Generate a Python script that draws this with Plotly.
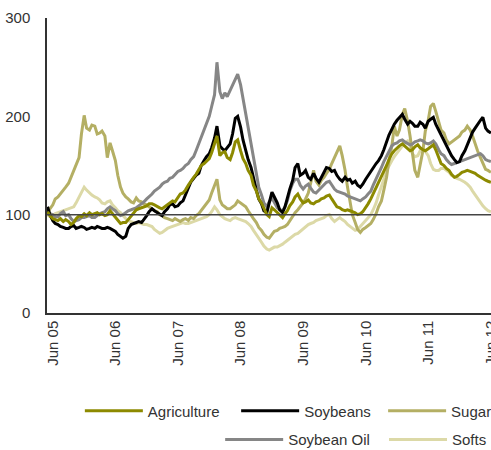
import pandas as pd
import plotly.graph_objects as go

# semi-monthly observations, index = 100 at start
dates = pd.date_range("2005-05-01", periods=171, freq="SMS")

agriculture = [103, 99, 96, 95, 94, 96, 93, 95, 93, 90, 92, 96, 99, 98, 101, 99, 102, 100, 101, 102,
               100, 101, 99, 100, 104, 101, 98, 94, 91, 92, 92, 95, 99, 102, 105, 106, 107, 108, 109, 111,
               111, 110, 108, 107, 106, 108, 110, 112, 114, 113, 118, 121, 122, 125, 130, 134, 138, 141, 146, 150,
               152, 154, 157, 163, 172, 180, 160, 163, 164, 158, 156, 163, 174, 176, 165, 157, 152, 145, 140, 130,
               124, 116, 112, 106, 100, 98, 107, 105, 102, 100, 97, 101, 104, 109, 113, 118, 121, 116, 112, 113,
               115, 112, 111, 113, 114, 116, 117, 119, 120, 116, 111, 108, 107, 105, 104, 105, 104, 103, 102, 100,
               101, 103, 107, 111, 116, 121, 128, 133, 138, 144, 150, 156, 162, 165, 168, 170, 172, 170, 167, 165,
               166, 169, 171, 168, 166, 165, 167, 169, 171, 166, 158, 152, 150, 147, 145, 141, 138, 139, 141, 143,
               144, 145, 144, 143, 142, 140, 138, 137, 135, 134, 133]

soybeans = [108, 100, 94, 91, 90, 88, 87, 86, 86, 88, 89, 86, 87, 88, 87, 85, 86, 87, 86, 88,
            87, 86, 86, 87, 86, 85, 83, 80, 78, 76, 78, 86, 90, 91, 92, 93, 92, 95, 99, 103,
            106, 104, 102, 100, 99, 103, 106, 110, 111, 108, 109, 112, 114, 120, 127, 133, 137, 140, 142, 150,
            155, 159, 162, 168, 178, 190, 170, 167, 165, 168, 172, 182, 198, 200, 189, 176, 165, 156, 148, 136,
            125, 116, 111, 104, 102, 112, 123, 118, 112, 105, 102, 108, 118, 126, 135, 148, 152, 140, 142, 145,
            138, 136, 142, 137, 133, 138, 143, 148, 147, 144, 145, 140, 136, 134, 138, 135, 136, 132, 134, 130,
            128, 131, 136, 140, 144, 148, 152, 155, 160, 166, 174, 181, 187, 192, 196, 199, 202, 197, 192, 195,
            193, 190, 190, 194, 192, 188, 195, 197, 199, 192, 186, 180, 175, 170, 165, 160, 156, 153, 154, 160,
            165, 171, 178, 184, 188, 192, 196, 199, 188, 185, 183]

sugar = [100, 106, 110, 116, 118, 121, 124, 128, 132, 138, 143, 150, 158, 182, 201, 188, 186, 191, 190, 182,
         183, 185, 180, 158, 173, 165, 155, 140, 128, 122, 118, 116, 113, 112, 117, 114, 113, 111, 110, 108,
         106, 104, 103, 100, 99, 97, 96, 95, 94, 96, 94, 93, 95, 96, 94, 97, 96, 99, 101, 104,
         108, 111, 115, 122, 130, 136, 115, 110, 108, 106, 106, 108, 110, 114, 112, 110, 108, 104, 99, 96,
         92, 87, 84, 80, 77, 76, 80, 83, 84, 86, 87, 88, 90, 94, 98, 102, 105, 108, 112, 116,
         122, 132, 145, 134, 130, 135, 138, 142, 146, 152, 158, 165, 170, 160, 145, 128, 115, 100, 92, 85,
         82, 85, 87, 89, 91, 95, 101, 108, 114, 125, 138, 155, 170, 190, 180, 186, 202, 208, 195, 180,
         162, 145, 138, 150, 165, 185, 196, 210, 213, 205, 193, 186, 183, 176, 172, 174, 176, 178, 180, 184,
         186, 190, 186, 180, 172, 165, 158, 152, 146, 145, 143]

soybean_oil = [104, 101, 100, 98, 98, 101, 103, 99, 100, 96, 93, 94, 95, 97, 97, 98, 99, 97, 97, 99,
               101, 102, 103, 106, 108, 106, 104, 101, 99, 100, 102, 104, 105, 106, 107, 109, 111, 113, 116, 118,
               121, 124, 126, 128, 131, 133, 134, 137, 138, 141, 144, 145, 147, 150, 152, 156, 159, 165, 172, 178,
               186, 192, 200, 210, 222, 255, 225, 218, 224, 220, 226, 232, 238, 243, 232, 218, 200, 186, 172, 155,
               140, 128, 120, 112, 108, 113, 117, 112, 107, 105, 104, 108, 114, 124, 132, 136, 136, 130, 126, 129,
               131, 127, 123, 122, 125, 128, 130, 133, 134, 130, 126, 124, 123, 122, 121, 119, 118, 117, 116, 115,
               114, 116, 118, 121, 124, 130, 136, 142, 148, 154, 160, 165, 170, 172, 173, 175, 176, 174, 172, 171,
               172, 174, 175, 176, 175, 173, 172, 173, 175, 172, 166, 162, 160, 156, 153, 151, 152, 153, 154, 155,
               156, 157, 158, 159, 160, 161, 162, 160, 156, 155, 154]

softs = [100, 98, 99, 101, 102, 103, 104, 105, 106, 107, 108, 112, 118, 124, 128, 125, 122, 120, 118, 117,
         115, 112, 111, 113, 114, 110, 107, 104, 102, 99, 96, 94, 93, 92, 91, 92, 91, 90, 90, 89,
         88, 85, 83, 81, 82, 84, 86, 87, 88, 89, 90, 91, 92, 91, 91, 92, 93, 94, 95, 96,
         97, 98, 100, 103, 108, 105, 100, 98, 96, 95, 94, 96, 97, 96, 95, 94, 93, 91, 88, 84,
         80, 76, 72, 68, 65, 64, 66, 67, 67, 68, 70, 72, 74, 76, 78, 80, 81, 83, 86, 88,
         90, 91, 92, 94, 95, 96, 97, 99, 100, 96, 93, 95, 97, 95, 93, 90, 88, 86, 84, 85,
         88, 91, 94, 97, 100, 105, 112, 120, 128, 136, 145, 150, 155, 159, 163, 166, 170, 173, 175, 170,
         162, 159, 160, 165, 168, 164, 160, 152, 146, 145, 145, 147, 147, 145, 143, 140, 138, 137, 136, 135,
         133, 131, 128, 124, 120, 116, 112, 109, 106, 104, 103]

tick_dates = ["2005-06-01", "2006-06-01", "2007-06-01", "2008-06-01",
              "2009-06-01", "2010-06-01", "2011-06-01", "2012-06-01"]
tick_labels = ["Jun 05", "Jun 06", "Jun 07", "Jun 08", "Jun 09", "Jun 10", "Jun 11", "Jun 12"]

txt = "#333333"
fnt = dict(family="Liberation Sans, Arial, sans-serif", size=15, color=txt)

fig = go.Figure()
# drawing order (bottom to top); each series gets its own one-item legend
series = [
    ("Softs", softs, "#dcd9a7", "legend5"),
    ("Sugar", sugar, "#b4af64", "legend3"),
    ("Soybean Oil", soybean_oil, "#868686", "legend4"),
    ("Soybeans", soybeans, "#000000", "legend2"),
    ("Agriculture", agriculture, "#8d8a00", "legend"),
]
for name, vals, col, leg in series:
    fig.add_trace(go.Scatter(x=dates, y=vals, name=name, mode="lines", showlegend=True,
                             line=dict(color=col, width=3), legend=leg))

fig.add_hline(y=100, line_color="#444444", line_width=1.5, layer="above")

leg_common = dict(orientation="h", xanchor="left", yanchor="middle", itemwidth=58,
                  font=fnt, bgcolor="rgba(0,0,0,0)")

fig.update_layout(
    width=491, height=450,
    showlegend=True,
    margin=dict(l=47, r=0, t=18, b=137, autoexpand=False),
    plot_bgcolor="white", paper_bgcolor="white",
    font=fnt,
    xaxis=dict(range=["2005-04-28", "2012-06-01 12:00"], tickmode="array",
               tickvals=tick_dates, ticktext=tick_labels, tickangle=-90,
               ticklabeloverflow="allow",
               showgrid=False, zeroline=False, showline=True, linecolor=txt, linewidth=1.5,
               ticks="", automargin=False),
    yaxis=dict(range=[0, 300], tickvals=[0, 100, 200, 300], showgrid=False, zeroline=False,
               showline=True, linecolor=txt, linewidth=1.5, ticks="", ticklabelstandoff=12,
               automargin=False),
    legend=dict(x=0.074, y=-0.332, **leg_common),
    legend2=dict(x=0.426, y=-0.332, **leg_common),
    legend3=dict(x=0.757, y=-0.332, **leg_common),
    legend4=dict(x=0.390, y=-0.43, **leg_common),
    legend5=dict(x=0.759, y=-0.43, **leg_common),
)

fig.write_html("out.html", config={"displayModeBar": False},
               post_script="document.body.style.margin='0px';")
